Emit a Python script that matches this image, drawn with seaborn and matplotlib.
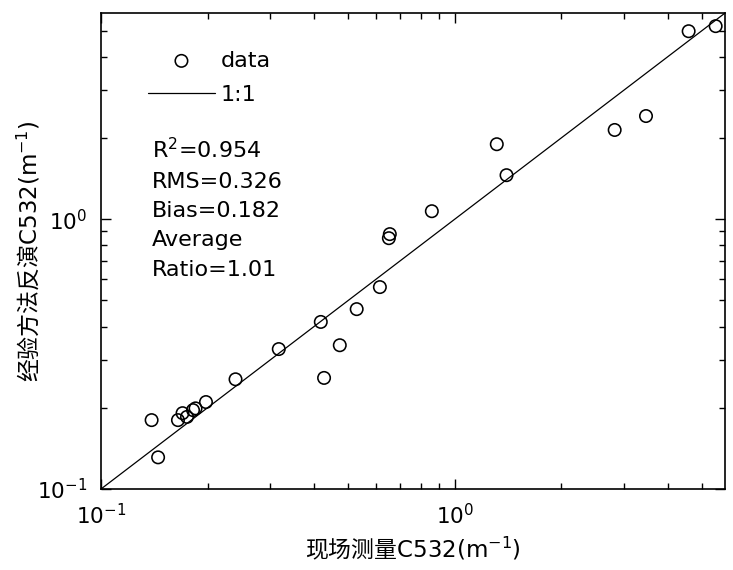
import matplotlib
matplotlib.use("Agg")
import matplotlib.pyplot as plt
import seaborn as sns
import numpy as np
import pandas as pd
from matplotlib.ticker import LogLocator, LogFormatterSciNotation, NullFormatter

# data
measured = [0.139, 0.145, 0.165, 0.170, 0.175, 0.182, 0.185, 0.198, 0.240, 0.318,
            0.418, 0.427, 0.473, 0.528, 0.614, 0.651, 0.655, 0.861, 1.314, 1.40,
            2.83, 3.47, 4.58, 5.46]
retrieved = [0.180, 0.131, 0.180, 0.191, 0.185, 0.196, 0.199, 0.210, 0.255, 0.330,
             0.416, 0.258, 0.341, 0.464, 0.560, 0.850, 0.880, 1.07, 1.895, 1.455,
             2.14, 2.41, 4.97, 5.19]
one_to_one = [0.1, 5.8]
stats_lines = ["R$^2$=0.954", "RMS=0.326", "Bias=0.182", "Average", "Ratio=1.01"]
xlabel = r"现场测量$\mathsf{C532(m^{-1})}$"
ylabel = r"经验方法反演$\mathsf{C532(m^{-1})}$"

sns.set_theme(style="ticks")
plt.rcParams['font.family'] = ['DejaVu Sans', 'Noto Sans CJK SC']
plt.rcParams['text.color'] = 'black'
plt.rcParams['axes.labelcolor'] = 'black'
plt.rcParams['xtick.color'] = 'black'
plt.rcParams['ytick.color'] = 'black'
plt.rcParams['mathtext.fontset'] = 'dejavusans'
# 'custom' math font family is used only for the CJK axis labels
plt.rcParams['mathtext.rm'] = 'DejaVu Sans'
plt.rcParams['mathtext.it'] = 'DejaVu Sans'
plt.rcParams['mathtext.bf'] = 'DejaVu Sans'
plt.rcParams['mathtext.sf'] = 'DejaVu Sans'

fig = plt.figure(figsize=(7.33, 5.70), dpi=100)
ax = fig.add_axes([0.1378, 0.1421, 0.8512, 0.8349])

df = pd.DataFrame({"x": measured, "y": retrieved})
line_df = pd.DataFrame({"x": one_to_one, "y": one_to_one})

sns.scatterplot(data=df, x="x", y="y", ax=ax, marker="o", s=80,
                facecolors="none", edgecolor="black", linewidth=1.15, label="data", zorder=3)
sns.lineplot(data=line_df, x="x", y="y", ax=ax, color="black", linewidth=0.9, label="1:1")

ax.set_xscale("log")
ax.set_yscale("log")
ax.set_xlim(0.1, 5.8)
ax.set_ylim(0.1, 5.8)

for axis in (ax.xaxis, ax.yaxis):
    axis.set_major_locator(LogLocator(base=10))
    axis.set_minor_locator(LogLocator(base=10, subs=np.arange(2, 10)))
    axis.set_minor_formatter(NullFormatter())
    axis.set_major_formatter(LogFormatterSciNotation())

ax.tick_params(which="both", direction="in", top=True, right=True, colors="black",
               labelsize=15.5, width=1.0)
ax.tick_params(which="major", length=7, pad=10)
ax.tick_params(which="minor", length=4)
for sp in ax.spines.values():
    sp.set_linewidth(1.2)
    sp.set_color("black")

ax.set_xlabel(xlabel, fontsize=16.5, family='Noto Sans CJK SC', math_fontfamily='custom')
ax.set_ylabel(ylabel, fontsize=16.5, family='Noto Sans CJK SC', math_fontfamily='custom')
ax.xaxis.set_label_coords(0.5, -0.097)
ax.yaxis.set_label_coords(-0.094, 0.5)

leg = ax.legend(loc="upper left", bbox_to_anchor=(0.0755, 0.921), frameon=False,
                fontsize=16, handlelength=3.0, handletextpad=0.25, labelspacing=0.63,
                borderpad=0, borderaxespad=0)

y0 = 0.695
dy = 0.0616
for i, line in enumerate(stats_lines):
    ax.text(0.0817, y0 - i * dy, line, transform=ax.transAxes, fontsize=16,
            va="baseline", ha="left")

fig.savefig("out.png", dpi=100)
